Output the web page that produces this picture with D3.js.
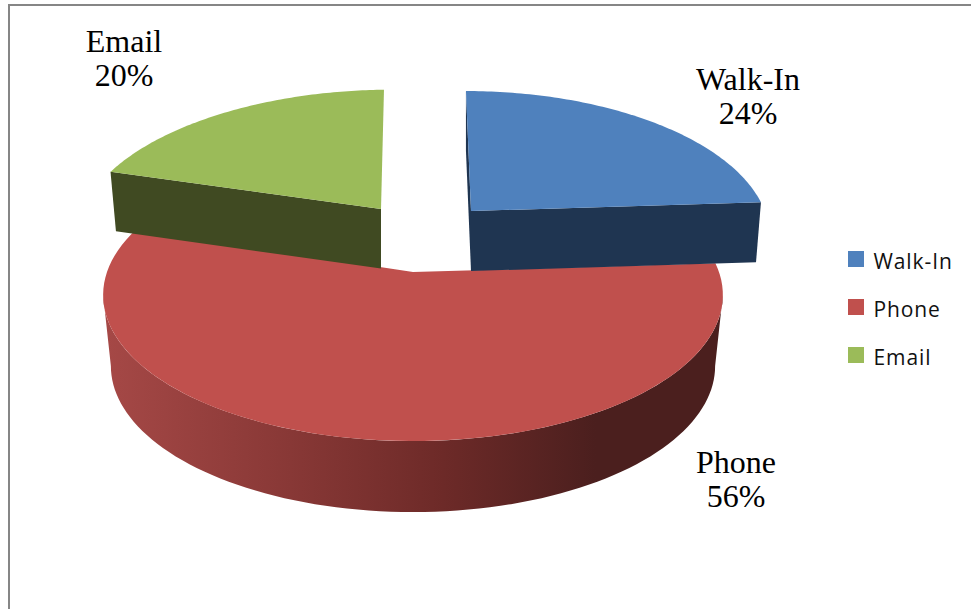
<!DOCTYPE html>
<html>
<head>
<meta charset="utf-8">
<script src="https://cdn.jsdelivr.net/npm/d3@7"></script>
<style>
  html, body { margin: 0; padding: 0; background: #fff; }
  svg { display: block; }
</style>
</head>
<body>
<script>
const width = 971;
const height = 609;

// Data
const categories = ['Walk-In', 'Phone', 'Email'];
const shares = [24, 56, 20];
const topColors = ['#4f81bd', '#c0504d', '#9bbb59'];
const wallColors = ['#1f3551', 'url(#phoneWall)', '#404a22'];

// Where each exploded slice sits and how it is foreshortened
const sliceOrigin = [[471, 211], [413, 272], [381, 209]];
const sliceScale = [0.96, 1, 0.978];
const sliceScaleY = [0.975, 1, 0.97];
const sliceSkew = [0.042, 0, -0.025];
const sliceTilt = [0, 0, -0.013];
const sliceDepth = [60, 71, 59.5];
const wallShrink = [0.983, 0.975, 0.98];
const labelPos = [[748, 90], [736, 473], [124, 52]];

// Perspective of the disc
const A = 306, B = 142.4, p = 0.1575;

const color = d3.scaleOrdinal().domain(categories).range(topColors);

const pie = d3.pie().sort(null).value(d => d.share);
const slices = pie(categories.map((name, i) => ({ name, share: shares[i], i })));

const svg = d3.select('body').append('svg')
  .attr('width', width)
  .attr('height', height);

// Gradient on the side of the big slice
const grad = svg.append('defs').append('linearGradient')
  .attr('id', 'phoneWall')
  .attr('gradientUnits', 'userSpaceOnUse')
  .attr('x1', 107).attr('x2', 718).attr('y1', 0).attr('y2', 0);
[[0, '#a54846'], [0.3, '#883836'], [0.55, '#6d2a28'], [0.8, '#4b1f1e'], [1, '#4b1f1e']].forEach(s => {
  grad.append('stop').attr('offset', s[0]).attr('stop-color', s[1]);
});

// Chart frame, open at the right and bottom
svg.append('path')
  .attr('d', `M9,${height} V5 H${width}`)
  .attr('fill', 'none')
  .attr('stroke', '#868686')
  .attr('stroke-width', 2);

// Point on slice i at pie angle a and radius r (0..1), on the top face or the lower rim
function project(i, a, r, lower) {
  const u = r * Math.sin(a);
  const v = -r * Math.cos(a);
  const w = 1 - p * v;
  const k = sliceScale[i] * (lower ? wallShrink[i] : 1);
  const Xraw = k * A * u / w;
  const Y = sliceScaleY[i] * B * v / w + sliceTilt[i] * sliceScale[i] * A * u / w;
  const X = Xraw + sliceSkew[i] * Y;
  return [sliceOrigin[i][0] + X, sliceOrigin[i][1] + Y + (lower ? sliceDepth[i] : 0)];
}

const line = d3.line();

function rim(i, a0, a1, lower) {
  const n = 90;
  return d3.range(n + 1).map(k => project(i, a0 + (a1 - a0) * k / n, 1, lower));
}

function topFace(d) {
  return line([project(d.index, 0, 0, false), ...rim(d.index, d.startAngle, d.endAngle, false)]) + 'Z';
}

// Only the part of the rim between the two widest points faces the viewer
function outerWall(d) {
  const widest = Math.acos(-p);
  const a0 = Math.max(d.startAngle, widest);
  const a1 = Math.min(d.endAngle, 2 * Math.PI - widest);
  return line([...rim(d.index, a0, a1, false), ...rim(d.index, a0, a1, true).reverse()]) + 'Z';
}

function cutWall(d, a) {
  const i = d.index;
  return line([
    project(i, a, 0, false), project(i, a, 1, false),
    project(i, a, 1, true), project(i, a, 0, true)
  ]) + 'Z';
}

// Big slice first, the two others stand in front of its back edge
const order = [1, 0, 2];
const g = svg.append('g');

order.forEach(idx => {
  const d = slices[idx];
  const name = d.data.name;
  if (name === 'Phone') {
    g.append('path').attr('d', outerWall(d)).attr('fill', wallColors[idx]);
  }
  if (name === 'Walk-In') {
    g.append('path').attr('d', cutWall(d, d.startAngle)).attr('fill', wallColors[idx]);
  }
  if (name !== 'Phone') {
    const a = name === 'Walk-In' ? d.endAngle : d.startAngle;
    g.append('path').attr('d', cutWall(d, a)).attr('fill', wallColors[idx]);
  }
  g.append('path').attr('d', topFace(d)).attr('fill', color(name));
});

// Data labels
slices.forEach((d, i) => {
  const t = svg.append('text')
    .attr('text-anchor', 'middle')
    .attr('font-family', '"Liberation Serif", serif')
    .attr('font-size', 32)
    .attr('fill', '#000');
  t.append('tspan').attr('x', labelPos[i][0]).attr('y', labelPos[i][1]).text(d.data.name);
  t.append('tspan').attr('x', labelPos[i][0]).attr('y', labelPos[i][1] + 34).text(d.data.share + '%');
});

// Legend
const legendY = d3.scalePoint().domain(categories).range([251, 347]);
const legend = svg.selectAll('g.legend')
  .data(categories)
  .enter()
  .append('g')
  .attr('class', 'legend')
  .attr('transform', d => `translate(848,${legendY(d)})`);

legend.append('rect')
  .attr('width', 16)
  .attr('height', 16)
  .attr('fill', d => color(d));

legend.append('text')
  .attr('x', 25.5)
  .attr('y', 17.5)
  .attr('font-family', '"Open Sans", sans-serif')
  .attr('font-size', 21)
  .attr('letter-spacing', 0.9)
  .attr('fill', '#111')
  .text(d => d);
</script>
</body>
</html>
